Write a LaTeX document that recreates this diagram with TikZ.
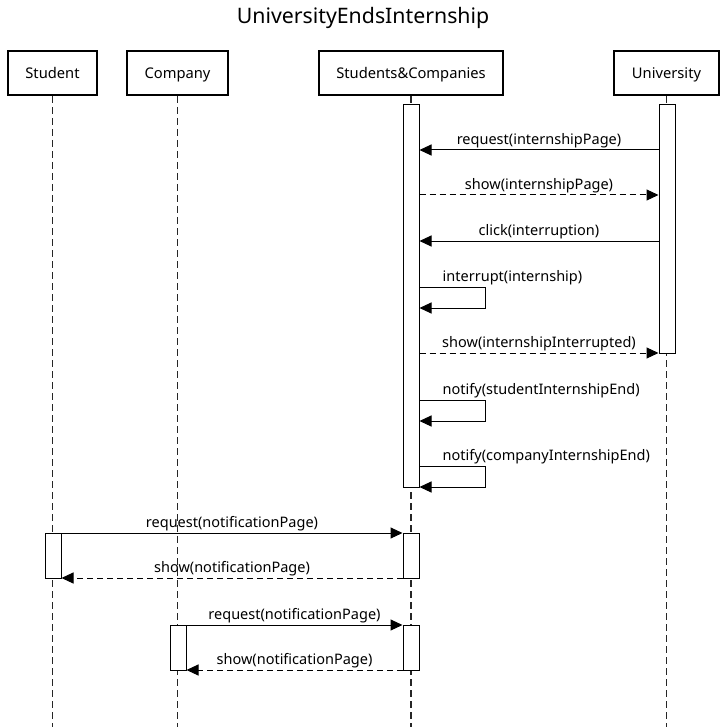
\documentclass[tikz,border=0pt]{standalone}
\usepackage{fontspec}
\setmainfont{Noto Sans}
\usetikzlibrary{arrows.meta}

\begin{document}
\begin{tikzpicture}[x=1pt,y=-1pt,>={Triangle[length=12pt,width=11pt]},font=\fontsize{14.5}{17}\selectfont]
\tikzstyle{actor}=[draw,line width=2pt,minimum height=44pt,text height=12.5pt,text depth=1.5pt,font=\fontsize{14.7}{17}\selectfont]
\tikzstyle{lifeline}=[draw,dash pattern=on 7pt off 4pt,line width=1.2pt,black!85]
\tikzstyle{bar}=[draw,fill=white,minimum width=16pt,inner sep=0pt,anchor=north,line width=1pt]
\tikzstyle{msg}=[->,line width=1pt]
\tikzstyle{reply}=[msg,dash pattern=on 6pt off 4pt]
\tikzstyle{lbl}=[midway,above,inner sep=2pt]
\tikzstyle{selflbl}=[anchor=south west,inner sep=2pt]
\useasboundingbox (0,0) rectangle (727,727);
\coordinate (bot) at (0,727);
\node[font=\fontsize{21.3}{25}\selectfont] (title) at (363,18) {UniversityEndsInternship};
\node[actor,minimum width=89pt] (St) at (52.5,73) {Student};
\node[actor,minimum width=101pt] (Co) at (177.5,73) {Company};
\node[actor,minimum width=184pt] (SC) at (411,73) {Students\&Companies};
\node[actor,minimum width=105pt] (Un) at (666.5,73) {University};
% lifelines
\foreach \p in {St,Co,SC,Un}
  \draw[lifeline] (\p.south) -- (\p.south |- bot);
% activation bars
\node[bar,minimum height=383pt] (SCa) at (411,104) {};
\node[bar,minimum height=249pt] (Una) at (667,104) {};
\node[bar,minimum height=45pt] (Sta) at (53,533) {};
\node[bar,minimum height=45pt] (SCb) at (411,533) {};
\node[bar,minimum height=45pt] (Coa) at (178,625) {};
\node[bar,minimum height=45pt] (SCc) at (411,625) {};
% message rows
\coordinate (m1) at (0,150);
\coordinate (m2) at (0,195);
\coordinate (m3) at (0,241);
\coordinate (m4) at (0,287);
\coordinate (m5) at (0,353);
\coordinate (m6) at (0,400);
\coordinate (m7) at (0,466);
\coordinate (m8) at (0,533);
\coordinate (m9) at (0,578);
\coordinate (m10) at (0,625);
\coordinate (m11) at (0,670);
\draw[msg] (Una.west |- m1) -- (SCa.east |- m1) node[lbl]{request(internshipPage)};
\draw[reply] (SCa.east |- m2) -- (Una.west |- m2) node[lbl]{show(internshipPage)};
\draw[msg] (Una.west |- m3) -- (SCa.east |- m3) node[lbl]{click(interruption)};
\draw[msg] (SCa.east |- m4) -- ++(66,0) -- ++(0,21) -- ++(-66,0);
\node[selflbl] (l4) at ([xshift=21pt]SCa.east |- m4) {interrupt(internship)};
\draw[reply] (SCa.east |- m5) -- (Una.west |- m5) node[lbl]{show(internshipInterrupted)};
\draw[msg] (SCa.east |- m6) -- ++(66,0) -- ++(0,21) -- ++(-66,0);
\node[selflbl] (l6) at ([xshift=21pt]SCa.east |- m6) {notify(studentInternshipEnd)};
\draw[msg] (SCa.east |- m7) -- ++(66,0) -- ++(0,21) -- ++(-66,0);
\node[selflbl] (l7) at ([xshift=21pt]SCa.east |- m7) {notify(companyInternshipEnd)};
\draw[msg] (Sta.east |- m8) -- (SCb.west |- m8) node[lbl]{request(notificationPage)};
\draw[reply] (SCb.west |- m9) -- (Sta.east |- m9) node[lbl]{show(notificationPage)};
\draw[msg] (Coa.east |- m10) -- (SCc.west |- m10) node[lbl]{request(notificationPage)};
\draw[reply] (SCc.west |- m11) -- (Coa.east |- m11) node[lbl]{show(notificationPage)};
\end{tikzpicture}
\end{document}
